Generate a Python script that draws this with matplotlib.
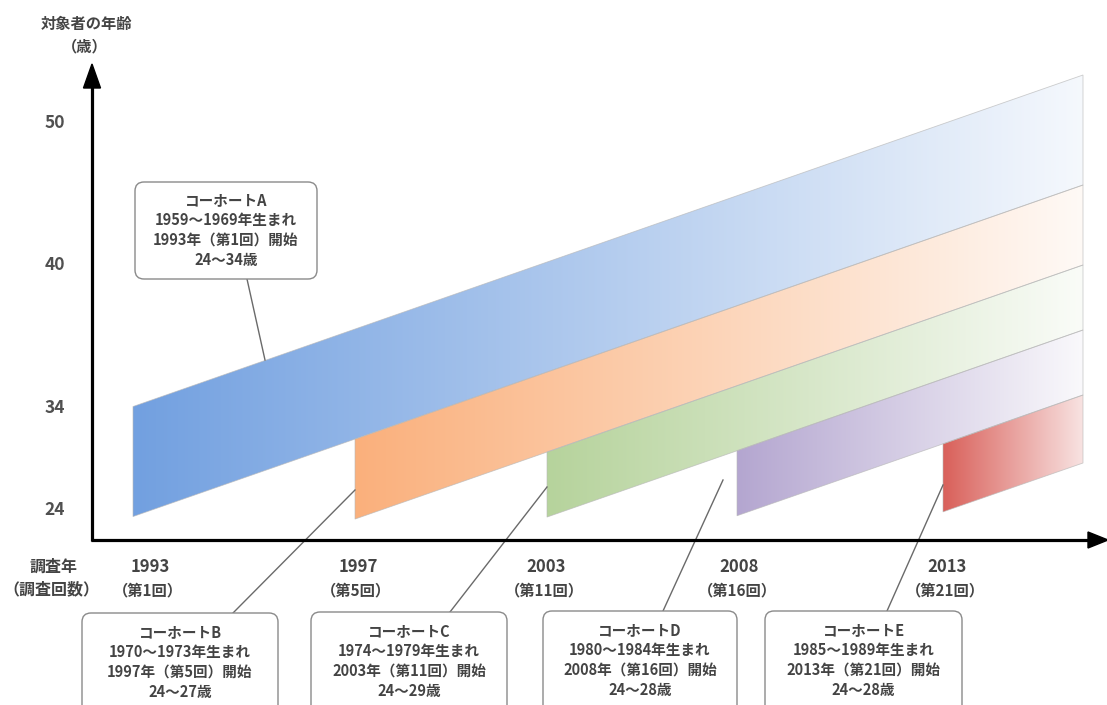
import numpy as np
import matplotlib
matplotlib.use("Agg")
import matplotlib.pyplot as plt
from matplotlib.patches import Polygon, FancyBboxPatch
from matplotlib.colors import to_rgb

plt.rcParams['font.family'] = ['Noto Sans CJK JP', 'DejaVu Sans']

# ---- content -------------------------------------------------------------
cohort_names = ["コーホートA", "コーホートB", "コーホートC", "コーホートD", "コーホートE"]
birth_ranges = ["1959〜1969", "1970〜1973", "1974〜1979", "1980〜1984", "1985〜1989"]
start_years = [1993, 1997, 2003, 2008, 2013]
start_rounds = [1, 5, 11, 16, 21]
age_ranges = ["24〜34", "24〜27", "24〜29", "24〜28", "24〜28"]
age_ticks = [24, 34, 40, 50]

y_title = "対象者の年齢"
y_unit = "（歳）"
x_title = "調査年"
x_unit = "（調査回数）"

band_colors = ["#72A0E0", "#FAB07C", "#B6D39C", "#B4A6D0", "#D9605A"]
fade_amount = [0.93, 0.93, 0.93, 0.93, 0.82]

# ---- schematic layout (canvas units, y grows downward) -------------------
W, H = 1107, 705
axis_x0, axis_y0 = 92, 540
band_left = [133, 355, 547, 737, 943]
band_right = 1083
slope = 0.349                      # rise of every band per unit to the right
edge_right = [75, 185, 265, 330, 395, 463]   # band boundaries at the right end
age_tick_y = [510, 408, 265, 123]
year_label_x = [150, 358, 546, 739, 947]

box_A = (135, 182, 182, 97)
boxes_lower = [(82, 613, 196), (311, 612, 196), (543, 611, 194), (765, 611, 197)]
leader_ends = [((247, 279), (265, 360)),
               ((233, 613), (355, 490)),
               ((450, 612), (547, 487)),
               ((663, 611), (723, 480)),
               ((887, 611), (943, 485))]

fig = plt.figure(figsize=(W / 100, H / 100), dpi=100)
ax = fig.add_axes([0, 0, 1, 1])
ax.set_xlim(0, W)
ax.set_ylim(H, 0)
ax.axis('off')

text_col = '#444444'
weight = 'bold'


def edge_y(y_right, x):
    return y_right + slope * (band_right - x)


# ---- cohort bands with horizontal fade -----------------------------------
for i, col in enumerate(band_colors):
    L = band_left[i]
    top_r, bot_r = edge_right[i], edge_right[i + 1]
    verts = [(L, edge_y(bot_r, L)), (L, edge_y(top_r, L)),
             (band_right, top_r), (band_right, bot_r)]
    poly = Polygon(verts, closed=True, facecolor='none',
                   edgecolor='#b8b8b8', lw=0.6, alpha=0.7, zorder=3)
    ax.add_patch(poly)
    c0 = np.array(to_rgb(col))
    c1 = c0 * (1 - fade_amount[i]) + fade_amount[i]
    t = np.linspace(0, 1, 256)[None, :, None]
    grad = c0 * (1 - t) + c1 * t
    ymin = top_r
    ymax = edge_y(bot_r, L)
    im = ax.imshow(grad, extent=[L, band_right, ymax, ymin], aspect='auto',
                   interpolation='bilinear', zorder=2)
    clip = Polygon(verts, closed=True, transform=ax.transData)
    im.set_clip_path(clip)

# ---- leader lines ----------------------------------------------------------
for (p0, p1) in leader_ends:
    ax.plot([p0[0], p1[0]], [p0[1], p1[1]], color='#6a6a6a', lw=1.0, zorder=4)

# ---- axes with arrowheads --------------------------------------------------
ax.plot([axis_x0, axis_x0], [axis_y0 + 1, 84], color='black', lw=2.3,
        solid_capstyle='butt', zorder=5)
ax.add_patch(Polygon([(axis_x0 - 8.5, 88), (axis_x0 + 8.5, 88), (axis_x0, 64)],
                     closed=True, color='black', zorder=5))
ax.plot([axis_x0 - 1, 1090], [axis_y0, axis_y0], color='black', lw=2.3,
        solid_capstyle='butt', zorder=5)
ax.add_patch(Polygon([(1088, axis_y0 - 8), (1088, axis_y0 + 8), (1108, axis_y0)],
                     closed=True, color='black', zorder=5))

# ---- axis labels -----------------------------------------------------------
ax.text(86, 24, y_title, ha='center', va='center', fontsize=11,
        color=text_col, fontweight=weight)
ax.text(85, 46, y_unit, ha='center', va='center', fontsize=11,
        color=text_col, fontweight=weight)
for a, y in zip(age_ticks, age_tick_y):
    ax.text(55, y, str(a), ha='center', va='center', fontsize=12.5,
            color='#505050', fontweight=weight)

ax.text(53, 567, x_title, ha='center', va='center', fontsize=11.5,
        color=text_col, fontweight=weight)
ax.text(51, 589, x_unit, ha='center', va='center', fontsize=11.5,
        color=text_col, fontweight=weight)
for yr, rd, x in zip(start_years, start_rounds, year_label_x):
    ax.text(x, 567, str(yr), ha='center', va='center', fontsize=12,
            color=text_col, fontweight=weight)
    ax.text(x - 2, 590, f"（第{rd}回）", ha='center', va='center', fontsize=11,
            color=text_col, fontweight=weight)


# ---- callout boxes ---------------------------------------------------------
def callout(x, y, w, h, i, dy0):
    ax.add_patch(FancyBboxPatch((x, y), w, h,
                                boxstyle="round,pad=0,rounding_size=9",
                                facecolor='white', edgecolor='#8a8a8a', lw=1.0,
                                zorder=6))
    lines = [cohort_names[i],
             f"{birth_ranges[i]}年生まれ",
             f"{start_years[i]}年（第{start_rounds[i]}回）開始",
             f"{age_ranges[i]}歳"]
    cx = x + w / 2
    for k, s in enumerate(lines):
        ax.text(cx, y + dy0 + 20 * k, s, ha='center', va='center',
                fontsize=10.5, color=text_col, fontweight=weight, zorder=7)


callout(*box_A, 0, 18)
for i, (x, y, w) in enumerate(boxes_lower, start=1):
    callout(x, y, w, 120, i, 19)

fig.savefig("out.png", dpi=100, facecolor='white')
